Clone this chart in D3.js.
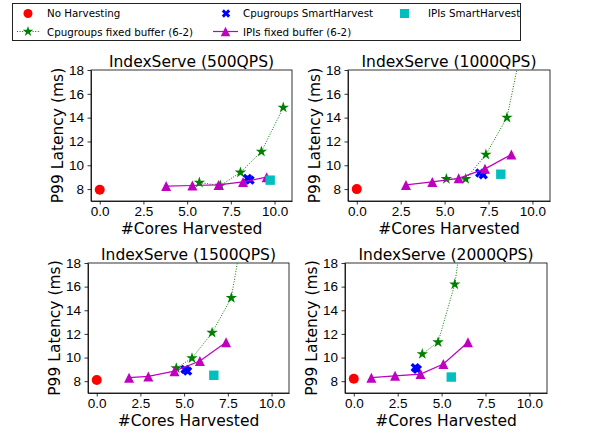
<!DOCTYPE html>
<html>
<head>
<meta charset="utf-8">
<script src="https://cdn.jsdelivr.net/npm/d3@7"></script>
<style>
  body { margin: 0; background: #fff; }
  svg { font-family: "DejaVu Sans", sans-serif; }
  .axis path, .axis line { stroke: #000; stroke-width: 0.8px; }
  .axis text { font-size: 13.5px; fill: #000; }
</style>
</head>
<body>
<div id="chart"></div>
<script>
// panel titles and tick labels
var titles = ["IndexServe (500QPS)", "IndexServe (1000QPS)", "IndexServe (1500QPS)", "IndexServe (2000QPS)"];
var xTicks = [0, 2.5, 5, 7.5, 10];
var yTicks = [8, 10, 12, 14, 16, 18];

// No Harvesting
var noHarvestX = [0, 0, 0, 0];
var noHarvestY = [7.95, 8.0, 8.1, 8.2];

// Cpugroups fixed buffer (6-2)
var cpuFixedX = [[5.7, 6.9, 8.05, 9.25, 10.5], [5.1, 6.2, 7.35, 8.55, 9.7], [4.55, 5.45, 6.6, 7.7, 8.75], [3.9, 4.8, 5.75, 6.7]];
var cpuFixedY = [[8.55, 8.3, 9.4, 11.15, 14.85], [8.85, 8.85, 10.9, 14.0, 22.2], [9.1, 9.95, 12.1, 15.05, 24.1], [10.3, 11.3, 16.2, 26.2]];

// Cpugroups SmartHarvest
var cpuSmartX = [[8.45, 8.6], [7.0, 7.2], [5.05, 5.2], [3.5, 3.62]];
var cpuSmartY = [[8.9, 8.75], [9.35, 9.2], [9.0, 8.85], [9.15, 9.0]];

// IPIs fixed buffer (6-2)
var ipiFixedX = [[3.8, 5.3, 6.8, 8.2, 9.55], [2.8, 4.3, 5.8, 7.3, 8.8], [1.85, 2.95, 4.45, 5.9, 7.4], [1.0, 2.35, 3.8, 5.1, 6.5]];
var ipiFixedY = [[8.25, 8.3, 8.35, 8.6, 9.0], [8.35, 8.6, 8.9, 9.7, 10.9], [8.3, 8.4, 8.85, 9.7, 11.3], [8.3, 8.45, 8.6, 9.45, 11.3]];

// IPIs SmartHarvest
var ipiSmartX = [9.75, 8.2, 6.7, 5.55];
var ipiSmartY = [8.75, 9.25, 8.5, 8.35];

var W = 595, H = 431;
var boxes = [
  {left: 91, top: 70, w: 201, h: 131},
  {left: 348, top: 70, w: 202, h: 131},
  {left: 88, top: 263, w: 201, h: 130},
  {left: 345, top: 263, w: 202, h: 130}
];

var col = {red: "#ff0000", green: "#008000", blue: "#0000ff", magenta: "#bf00bf", cyan: "#00bfbf"};

// marker paths (centered at 0,0)
function starPath(r) {
  var pts = [];
  for (var i = 0; i < 10; i++) {
    var rr = i % 2 == 0 ? r : r * 0.381966;
    var a = -Math.PI / 2 + i * Math.PI / 5;
    pts.push([rr * Math.cos(a), rr * Math.sin(a)]);
  }
  return "M" + pts.map(p => p.join(",")).join("L") + "Z";
}
function triPath(s) {
  return "M0," + (-s / 2) + "L" + (-s / 2) + "," + (s / 2) + "L" + (s / 2) + "," + (s / 2) + "Z";
}
function xPath(s) {
  var base = [[-1, -3], [-1, -1], [-3, -1], [-3, 1], [-1, 1], [-1, 3], [1, 3], [1, 1], [3, 1], [3, -1], [1, -1], [1, -3]];
  var c = Math.cos(Math.PI / 4);
  return "M" + base.map(function(p) {
    var x = p[0] / 6 * s, y = p[1] / 6 * s;
    return [(x * c - y * c).toFixed(2), (x * c + y * c).toFixed(2)].join(",");
  }).join("L") + "Z";
}

var svg = d3.select("#chart").append("svg")
  .attr("width", W)
  .attr("height", H);

boxes.forEach(function(b, i) {
  var x = d3.scaleLinear().domain([-0.5, 11]).range([0, b.w]);
  var y = d3.scaleLinear().domain([7, 18]).range([b.h, 0]);

  var g = svg.append("g").attr("transform", "translate(" + b.left + "," + b.top + ")");

  g.append("clipPath").attr("id", "clip" + i)
    .append("rect").attr("width", b.w).attr("height", b.h);

  g.append("g").attr("class", "axis")
    .attr("transform", "translate(0," + b.h + ")")
    .call(d3.axisBottom(x).tickValues(xTicks).tickFormat(d3.format(".1f")).tickSize(3.5).tickPadding(2).tickSizeOuter(0));
  g.append("g").attr("class", "axis")
    .call(d3.axisLeft(y).tickValues(yTicks).tickFormat(d3.format("d")).tickSize(3.5).tickPadding(3.5).tickSizeOuter(0));

  g.append("rect")
    .attr("width", b.w).attr("height", b.h)
    .attr("fill", "none").attr("stroke", "#000").attr("stroke-width", 0.8);

  var plot = g.append("g").attr("clip-path", "url(#clip" + i + ")");

  // No Harvesting
  plot.append("circle")
    .attr("cx", x(noHarvestX[i])).attr("cy", y(noHarvestY[i]))
    .attr("r", 5).attr("fill", col.red);

  // Cpugroups fixed buffer
  var cf = d3.zip(cpuFixedX[i], cpuFixedY[i]);
  plot.append("path")
    .attr("d", d3.line().x(d => x(d[0])).y(d => y(d[1]))(cf))
    .attr("fill", "none").attr("stroke", col.green)
    .attr("stroke-width", 1).attr("stroke-dasharray", "1,1.6");
  plot.selectAll(".star").data(cf).enter().append("path")
    .attr("class", "star")
    .attr("d", starPath(6))
    .attr("transform", d => "translate(" + x(d[0]) + "," + y(d[1]) + ")")
    .attr("fill", col.green);

  // Cpugroups SmartHarvest
  plot.selectAll(".xm").data(d3.zip(cpuSmartX[i], cpuSmartY[i])).enter().append("path")
    .attr("class", "xm")
    .attr("d", xPath(10))
    .attr("transform", d => "translate(" + x(d[0]) + "," + y(d[1]) + ")")
    .attr("fill", col.blue);

  // IPIs fixed buffer
  var ipf = d3.zip(ipiFixedX[i], ipiFixedY[i]);
  plot.append("path")
    .attr("d", d3.line().x(d => x(d[0])).y(d => y(d[1]))(ipf))
    .attr("fill", "none").attr("stroke", col.magenta).attr("stroke-width", 1.2);
  plot.selectAll(".tri").data(ipf).enter().append("path")
    .attr("class", "tri")
    .attr("d", triPath(10))
    .attr("transform", d => "translate(" + x(d[0]) + "," + y(d[1]) + ")")
    .attr("fill", col.magenta);

  // IPIs SmartHarvest
  plot.append("rect")
    .attr("x", x(ipiSmartX[i]) - 4.7).attr("y", y(ipiSmartY[i]) - 4.7)
    .attr("width", 9.4).attr("height", 9.4)
    .attr("fill", col.cyan);

  g.append("text")
    .attr("x", b.w / 2).attr("y", -3.5)
    .attr("text-anchor", "middle").attr("font-size", "15.5px")
    .text(titles[i]);
  g.append("text")
    .attr("x", b.w / 2).attr("y", b.h + 32.5)
    .attr("text-anchor", "middle").attr("font-size", "15.5px")
    .text("#Cores Harvested");
  g.append("text")
    .attr("transform", "translate(-28," + (b.h / 2) + ") rotate(-90)")
    .attr("text-anchor", "middle").attr("font-size", "15.5px")
    .text("P99 Latency (ms)");
});

// legend
var lg = svg.append("g").attr("class", "legend");
lg.append("rect")
  .attr("x", 12.5).attr("y", 3.5).attr("width", 508).attr("height", 37)
  .attr("fill", "#fff").attr("stroke", "#222").attr("stroke-width", 1);

var ltext = function(x, yy, t) {
  lg.append("text").attr("x", x).attr("y", yy).attr("font-size", "10.3px").text(t);
};
lg.append("circle").attr("cx", 28).attr("cy", 13.5).attr("r", 4.5).attr("fill", col.red);
ltext(47, 17, "No Harvesting");
lg.append("path").attr("d", xPath(9)).attr("transform", "translate(226,13.5)").attr("fill", col.blue);
ltext(243, 17, "Cpugroups SmartHarvest");
lg.append("rect").attr("x", 400).attr("y", 9).attr("width", 9).attr("height", 9).attr("fill", col.cyan);
ltext(428, 17, "IPIs SmartHarvest");

lg.append("line").attr("x1", 17).attr("x2", 39).attr("y1", 31.5).attr("y2", 31.5)
  .attr("stroke", col.green).attr("stroke-width", 1).attr("stroke-dasharray", "1,1.6");
lg.append("path").attr("d", starPath(5.5)).attr("transform", "translate(28,31.5)").attr("fill", col.green);
ltext(47, 35.5, "Cpugroups fixed buffer (6-2)");
lg.append("line").attr("x1", 213).attr("x2", 238).attr("y1", 31.5).attr("y2", 31.5)
  .attr("stroke", col.magenta).attr("stroke-width", 1.2);
lg.append("path").attr("d", triPath(9.5)).attr("transform", "translate(225.5,31.5)").attr("fill", col.magenta);
ltext(243, 35.5, "IPIs fixed buffer (6-2)");
</script>
</body>
</html>
